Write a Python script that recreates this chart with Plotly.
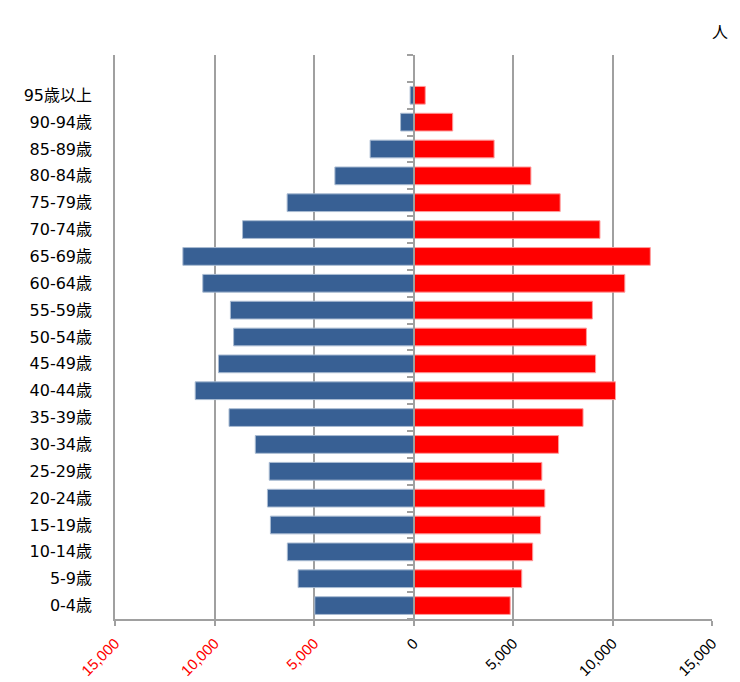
import plotly.graph_objects as go

categories = ["0-4歳", "5-9歳", "10-14歳", "15-19歳", "20-24歳", "25-29歳", "30-34歳",
              "35-39歳", "40-44歳", "45-49歳", "50-54歳", "55-59歳", "60-64歳", "65-69歳",
              "70-74歳", "75-79歳", "80-84歳", "85-89歳", "90-94歳", "95歳以上"]
male = [4960, 5800, 6340, 7190, 7340, 7250, 7950, 9270, 10970, 9800, 9040, 9200,
        10590, 11590, 8590, 6350, 3950, 2180, 650, 170]
female = [4860, 5440, 5990, 6390, 6600, 6450, 7290, 8520, 10150, 9150, 8690, 8990,
          10620, 11900, 9370, 7370, 5900, 4050, 1970, 590]
tick_vals = [-15000, -10000, -5000, 0, 5000, 10000, 15000]
tick_text = ['<span style="color:#FF0000">15,000</span>',
             '<span style="color:#FF0000">10,000</span>',
             '<span style="color:#FF0000">5,000</span>',
             "0", "5,000", "10,000", "15,000"]
unit_label = "人"

all_cats = categories + [" "]
LABEL_FONT = "DejaVu Sans, Noto Sans CJK JP"

fig = go.Figure()
fig.add_trace(go.Bar(
    y=categories, x=[-v for v in male], orientation="h", name="男性",
    width=0.66, marker=dict(color="#386094", line=dict(color="#A9BBD2", width=1)),
    customdata=male, hovertemplate="%{y}: %{customdata:,}人<extra>男性</extra>",
))
fig.add_trace(go.Bar(
    y=categories, x=female, orientation="h", name="女性",
    width=0.66, marker=dict(color="#FF0000", line=dict(color="#FF9A9A", width=1)),
    hovertemplate="%{y}: %{x:,}人<extra>女性</extra>",
))
# invisible helper trace for the central category axis (tick marks at boundaries)
fig.add_trace(go.Scatter(
    y=all_cats, x=[0] * len(all_cats), yaxis="y2", mode="markers",
    marker=dict(opacity=0), hoverinfo="skip", showlegend=False,
))

fig.update_layout(
    width=740, height=682,
    margin=dict(l=115, r=28, t=55, b=63),
    paper_bgcolor="white", plot_bgcolor="white",
    barmode="overlay",
    showlegend=False,
    font=dict(family=LABEL_FONT, color="#000000"),
    xaxis=dict(
        range=[-15000, 15000], tickvals=tick_vals, ticktext=tick_text,
        tickangle=-45, tickfont=dict(size=15, family="Liberation Sans"),
        showgrid=True, gridcolor="#A0A0A0", gridwidth=1.5,
        zeroline=False, showline=True, linecolor="#A0A0A0", linewidth=1.5,
        ticks="outside", ticklen=5, tickcolor="#A0A0A0", tickwidth=1.5,
        ticklabelstandoff=3, fixedrange=True, automargin=False,
    ),
    yaxis=dict(
        type="category", categoryarray=all_cats, categoryorder="array",
        range=[-0.5, len(all_cats) - 0.5],
        showgrid=False, zeroline=False, showline=True, linecolor="#A0A0A0",
        linewidth=1.5, ticks="",
        tickfont=dict(size=16, family=LABEL_FONT),
        ticklabelstandoff=18, fixedrange=True, automargin=False,
    ),
    yaxis2=dict(
        type="category", categoryarray=all_cats, categoryorder="array",
        range=[-0.5, len(all_cats) - 0.5],
        overlaying="y", anchor="free", position=0.5, side="left",
        showgrid=False, zeroline=False, showticklabels=False,
        showline=True, linecolor="#A0A0A0", linewidth=1.5,
        ticks="outside", ticklen=6, tickcolor="#A0A0A0", tickwidth=1.5,
        tickson="boundaries", fixedrange=True, automargin=False,
    ),
    annotations=[dict(
        text=unit_label, xref="paper", yref="paper", x=1.0, y=1.0,
        xshift=18, yshift=38, showarrow=False,
        font=dict(size=16, family="Noto Sans CJK JP"),
    )],
)

fig.write_html("out.html")
